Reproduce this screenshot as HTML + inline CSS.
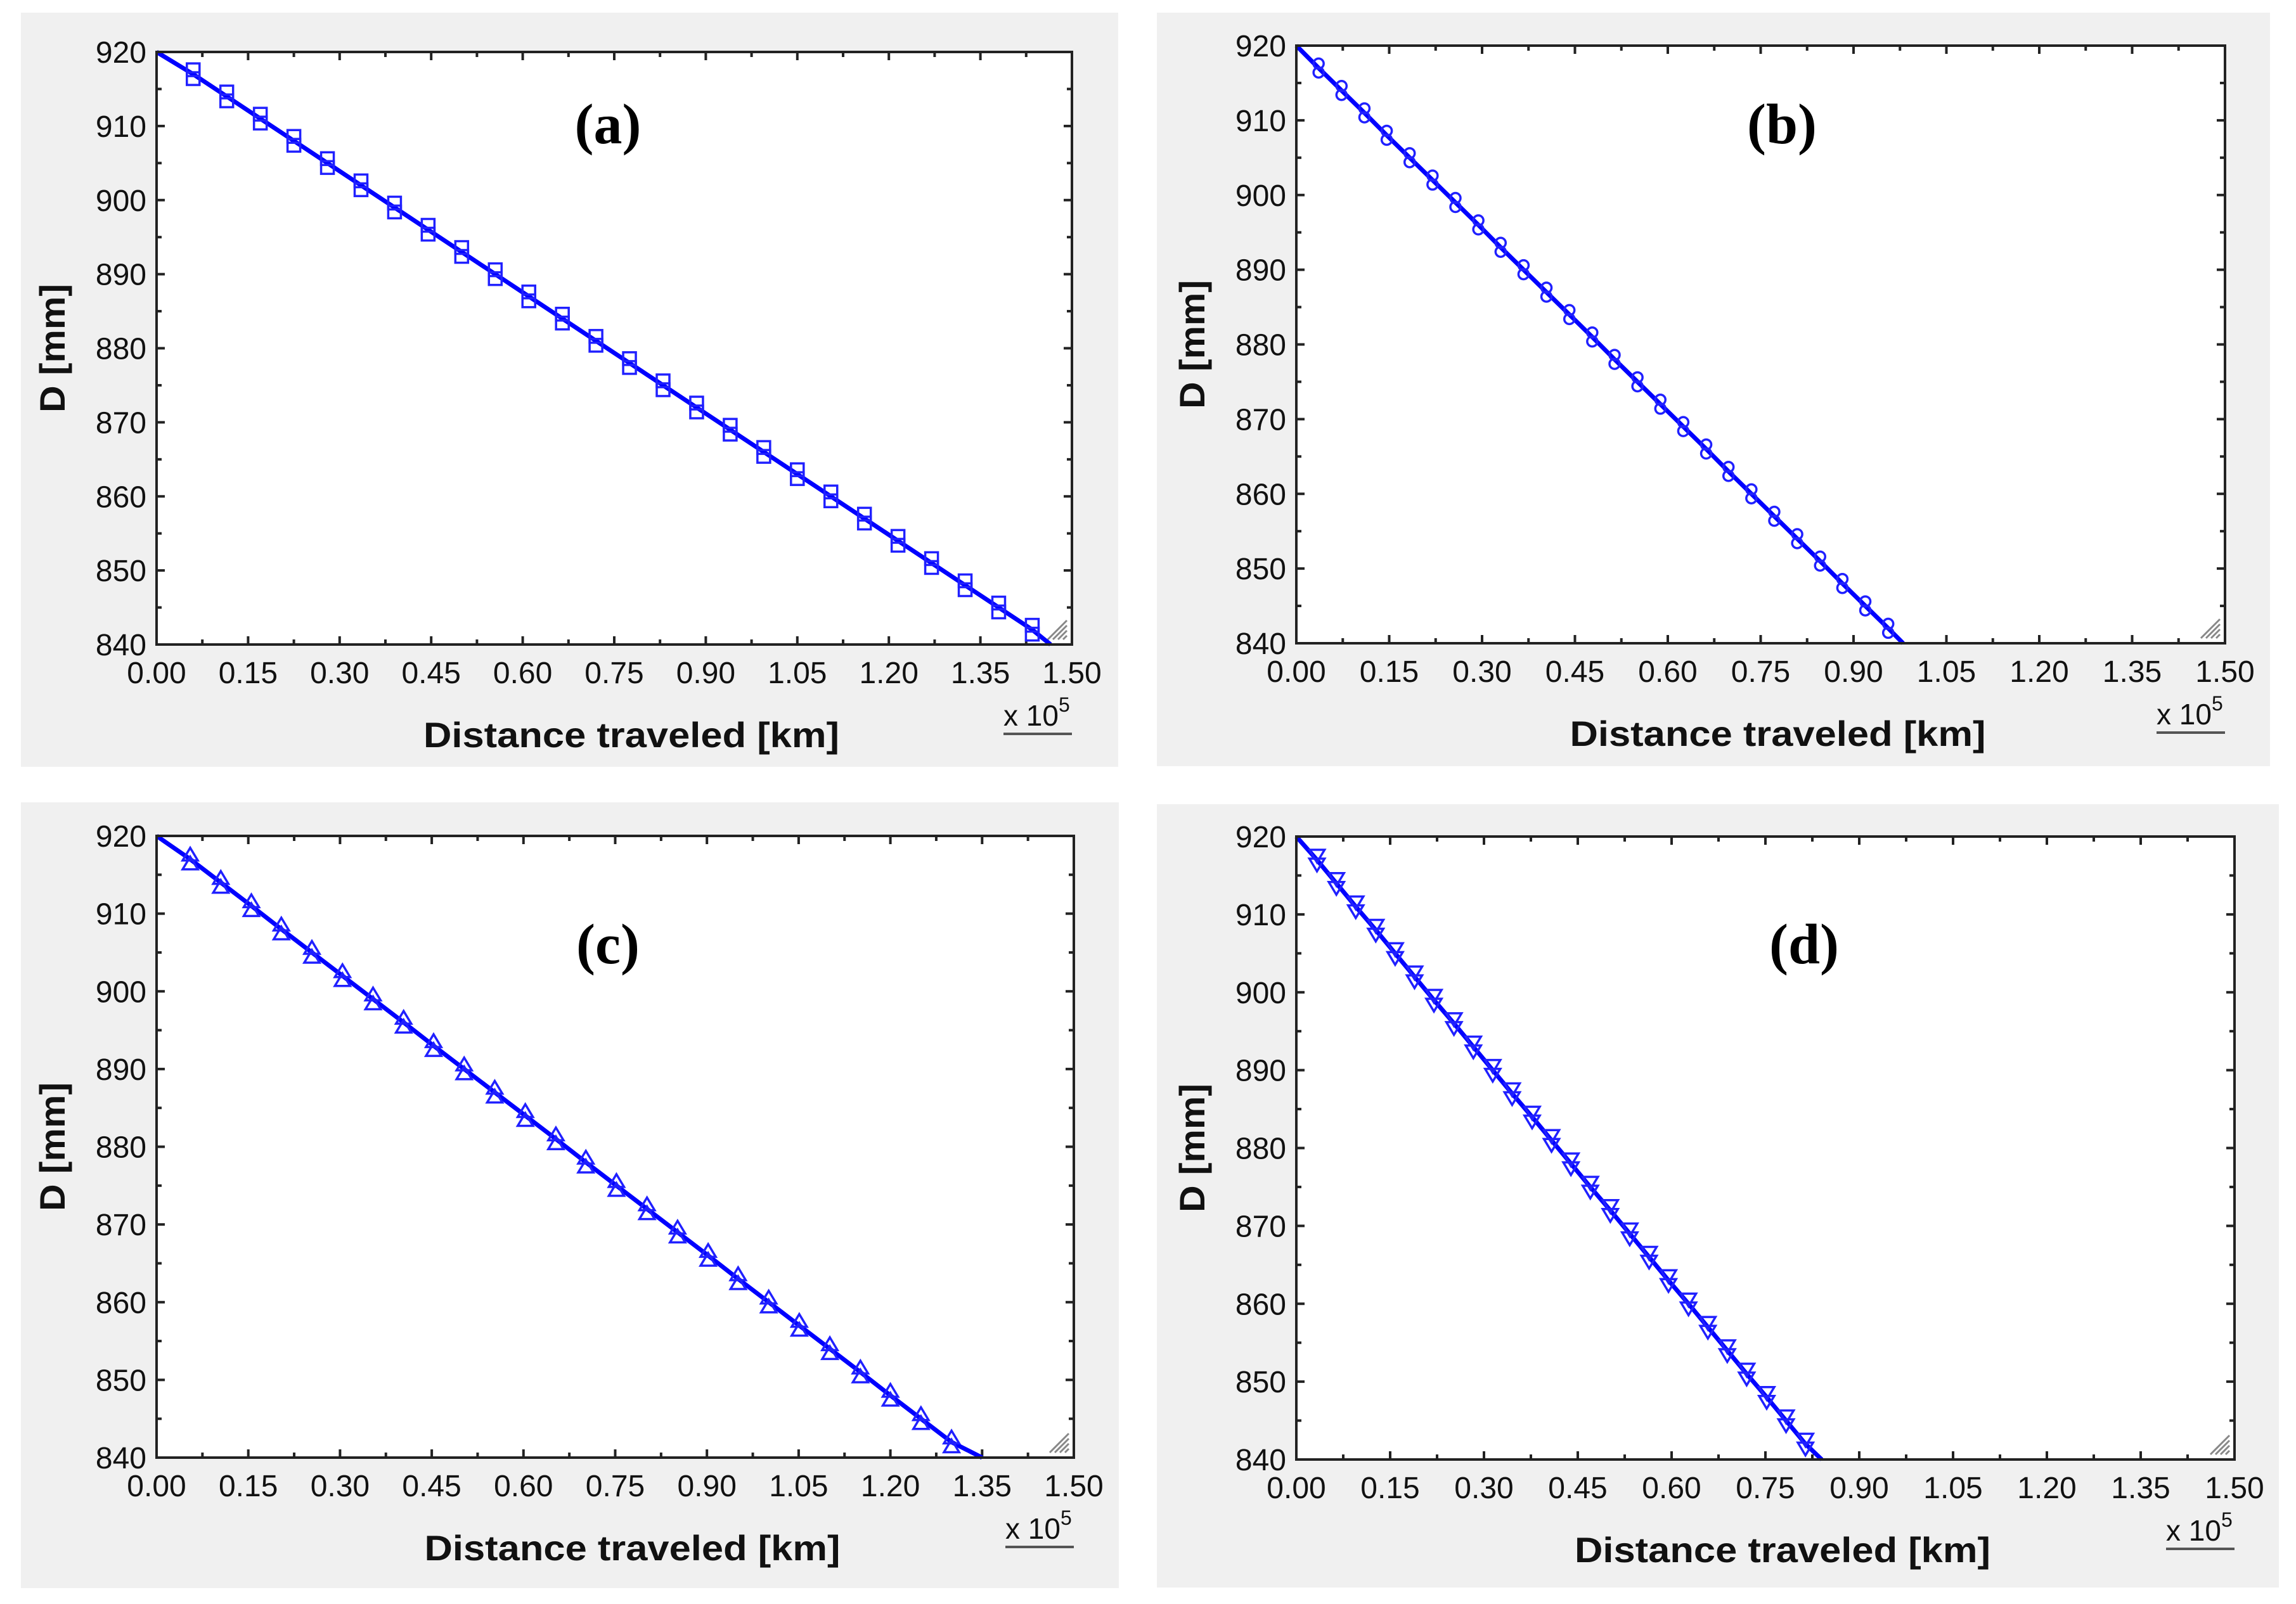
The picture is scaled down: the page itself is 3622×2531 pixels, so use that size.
<!DOCTYPE html>
<html><head><meta charset="utf-8">
<style>
html,body{margin:0;padding:0;background:#fff;}
svg{display:block;}
</style></head>
<body>
<svg id="fig" width="3622" height="2531" viewBox="0 0 3622 2531" xmlns="http://www.w3.org/2000/svg" font-family="Liberation Sans, Arial, sans-serif"></svg>
<script>
// ---- data ----
const xTickLabels = ["0.00","0.15","0.30","0.45","0.60","0.75","0.90","1.05","1.20","1.35","1.50"];
const yTickLabels = ["840","850","860","870","880","890","900","910","920"];
const aX = [0.06,0.115,0.17,0.225,0.28,0.335,0.39,0.445,0.50,0.555,0.61,0.665,0.72,0.775,0.83,0.885,0.94,0.995,1.05,1.105,1.16,1.215,1.27,1.325,1.38,1.435];
const aY = [917,914,911,908,905,902,899,896,893,890,887,884,881,878,875,872,869,866,863,860,857,854,851,848,845,842];
const aEnd = [1.465,840];
const bX = [0.036,0.073,0.110,0.146,0.183,0.220,0.257,0.294,0.330,0.367,0.404,0.441,0.478,0.514,0.551,0.588,0.625,0.662,0.698,0.735,0.772,0.809,0.846,0.882,0.919,0.956];
const bY = [917,914,911,908,905,902,899,896,893,890,887,884,881,878,875,872,869,866,863,860,857,854,851,848,845,842];
const bEnd = [0.98,840];
const cX = [0.055,0.105,0.155,0.204,0.254,0.304,0.354,0.404,0.453,0.503,0.553,0.603,0.653,0.702,0.752,0.802,0.852,0.902,0.951,1.001,1.051,1.101,1.151,1.200,1.250,1.300];
const cY = [917,914,911,908,905,902,899,896,893,890,887,884,881,878,875,872,869,866,863,860,857,854,851,848,845,842];
const cEnd = [1.35,840];
const dX = [0.033,0.064,0.095,0.127,0.158,0.189,0.220,0.252,0.283,0.314,0.345,0.377,0.408,0.439,0.470,0.502,0.533,0.564,0.595,0.627,0.658,0.689,0.720,0.752,0.783,0.814];
const dY = [917,914,911,908,905,902,899,896,893,890,887,884,881,878,875,872,869,866,863,860,857,854,851,848,845,842];
const dEnd = [0.84,840];

const NS="http://www.w3.org/2000/svg";
const svg=document.getElementById('fig');
function mk(tag,attrs,parent){const e=document.createElementNS(NS,tag);for(const k in attrs)e.setAttribute(k,attrs[k]);(parent||svg).appendChild(e);return e;}

const panels=[
 {id:'a',gx:33,gy:20,gw:1731,gh:1190,px:247,py:82,pw:1444,ph:935,X:aX,Y:aY,end:aEnd,m:'square',lx:959,ly:196},
 {id:'b',gx:1825,gy:20,gw:1756,gh:1189,px:2045,py:72,pw:1465,ph:943,X:bX,Y:bY,end:bEnd,m:'circle',lx:2811,ly:196},
 {id:'c',gx:33,gy:1266,gw:1732,gh:1240,px:247,py:1319,pw:1447,ph:981,X:cX,Y:cY,end:cEnd,m:'up',lx:959,ly:1490},
 {id:'d',gx:1825,gy:1269,gw:1770,gh:1236,px:2045,py:1320,pw:1480,ph:983,X:dX,Y:dY,end:dEnd,m:'down',lx:2846,ly:1490}
];

panels.forEach(p=>{
 const g=mk('g',{});
 
 
 const bg=mk('rect',{x:p.gx,y:p.gy,width:p.gw,height:p.gh,fill:'#f0f0f0'},g);
 
 
 const plot=mk('rect',{x:p.px,y:p.py,width:p.pw,height:p.ph,fill:'#fff'},g);
 
 
 const sx=v=>p.px+v/1.5*p.pw;
 const sy=v=>p.py+(920-v)/80*p.ph;
 const tk=mk('g',{stroke:'#222','stroke-width':4},g);
 
 
 for(let i=0;i<=20;i++){const x=sx(i*0.075);const L=i%2==0?13:8;
  mk('line',{x1:x,y1:p.py+p.ph,x2:x,y2:p.py+p.ph-L},tk);
  mk('line',{x1:x,y1:p.py,x2:x,y2:p.py+L},tk);}
 for(let i=0;i<=16;i++){const y=sy(840+i*5);const L=i%2==0?13:8;
  mk('line',{x1:p.px,y1:y,x2:p.px+L,y2:y},tk);
  mk('line',{x1:p.px+p.pw,y1:y,x2:p.px+p.pw-L,y2:y},tk);}
 xTickLabels.forEach((t,i)=>{const e=mk('text',{x:sx(parseFloat(t)),y:p.py+p.ph+61,'font-size':48,'text-anchor':'middle',fill:'#111'},g);e.textContent=t;
  });
 yTickLabels.forEach((t)=>{const e=mk('text',{x:p.px-16,y:sy(parseFloat(t))+17,'font-size':48,'text-anchor':'end',fill:'#111'},g);e.textContent=t;
  });
 const h=mk('g',{stroke:'#888','stroke-width':3},g);
 
 
 const cx=p.px+p.pw-8, cy=p.py+p.ph-8;
 [0,8,16,24].forEach(o=>mk('line',{x1:cx-30+o,y1:cy,x2:cx,y2:cy-30+o},h));
 let d='M'+sx(0)+','+sy(920);
 p.X.forEach((x,i)=>{d+=' L'+sx(x)+','+sy(p.Y[i]);});
 d+=' L'+sx(p.end[0])+','+sy(p.end[1]);
 const ln=mk('path',{d:d,fill:'none',stroke:'#0000ff','stroke-width':7,'stroke-linejoin':'round'},g);
 
 
 const mg=mk('g',{fill:'none',stroke:'#2020ff','stroke-width':3.5},g);
 
 
 p.X.forEach((x,i)=>{const X=sx(x),Yc=sy(p.Y[i]);
  [-7,7].forEach(o=>{const Y=Yc+o;let e;
   if(p.m=='square') e=mk('rect',{x:X-10,y:Y-10,width:20,height:20},mg);
   else if(p.m=='circle') e=mk('circle',{cx:X,cy:Y,r:8},mg);
   else if(p.m=='up') e=mk('polygon',{points:`${X},${Y-11} ${X-12},${Y+9} ${X+12},${Y+9}`},mg);
   else e=mk('polygon',{points:`${X},${Y+11} ${X-12},${Y-9} ${X+12},${Y-9}`},mg);
   
   });
 });
 const fr=mk('rect',{x:p.px,y:p.py,width:p.pw,height:p.ph,fill:'none',stroke:'#222','stroke-width':4},g);
 
 
 const xt=mk('text',{x:p.px+p.pw/2+27,y:p.py+p.ph+162,'font-size':56,'font-weight':'bold','text-anchor':'middle',fill:'#111',textLength:656,lengthAdjust:'spacingAndGlyphs'},g);
 xt.textContent='Distance traveled [km]';
 
 
 const yt=mk('text',{x:0,y:0,'font-size':56,'font-weight':'bold','text-anchor':'middle',fill:'#111',textLength:203,lengthAdjust:'spacingAndGlyphs',transform:`translate(${p.px-145},${p.py+p.ph/2}) rotate(-90)`},g);
 yt.textContent='D [mm]';
 
 
 const ex=mk('text',{x:p.px+p.pw-108,y:p.py+p.ph+128,'font-size':46,fill:'#111'},g);
 ex.innerHTML='x 10<tspan dy="-22" font-size="32">5</tspan>';
 
 
 const ul=mk('line',{x1:p.px+p.pw-108,y1:p.py+p.ph+141,x2:p.px+p.pw,y2:p.py+p.ph+141,stroke:'#555','stroke-width':4},g);
 
 
 const lb=mk('text',{x:p.lx,y:p.ly+30,'font-size':90,'font-weight':'bold','text-anchor':'middle',fill:'#000',style:'font-family:"Liberation Serif","Times New Roman",serif'},g);
 lb.textContent='('+p.id+')';
 
 
});
</script>
</body></html>
